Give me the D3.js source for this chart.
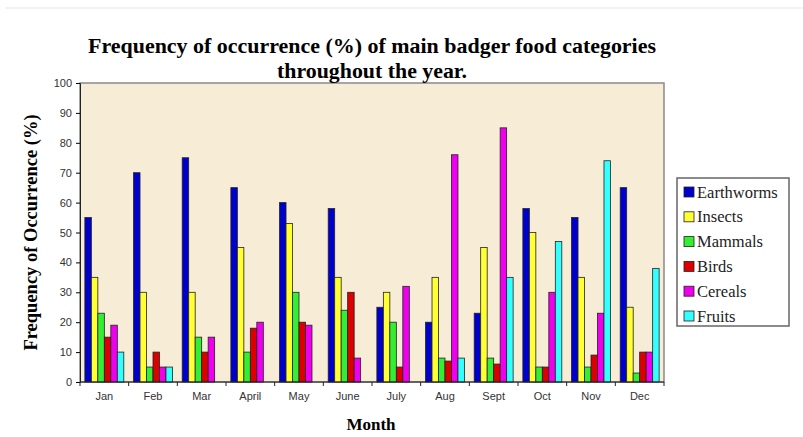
<!DOCTYPE html>
<html>
<head>
<meta charset="utf-8">
<script src="https://cdnjs.cloudflare.com/ajax/libs/d3/7.8.5/d3.min.js"></script>
<style>
  body { margin: 0; background: #fff; }
  svg { display: block; }
</style>
</head>
<body>
<div id="chart"></div>
<script>
var months = ["Jan", "Feb", "Mar", "April", "May", "June", "July", "Aug", "Sept", "Oct", "Nov", "Dec"];
var seriesNames = ["Earthworms", "Insects", "Mammals", "Birds", "Cereals", "Fruits"];
var seriesColors = ["#0000cc", "#ffff33", "#33ee33", "#dd0000", "#ee00ee", "#33ffff"];

var earthworms = [55, 70, 75, 65, 60, 58, 25, 20, 23, 58, 55, 65];
var insects    = [35, 30, 30, 45, 53, 35, 30, 35, 45, 50, 35, 25];
var mammals    = [23, 5, 15, 10, 30, 24, 20, 8, 8, 5, 5, 3];
var birds      = [15, 10, 10, 18, 20, 30, 5, 7, 6, 5, 9, 10];
var cereals    = [19, 5, 15, 20, 19, 8, 32, 76, 85, 30, 23, 10];
var fruits     = [10, 5, 0, 0, 0, 0, 0, 8, 35, 47, 74, 38];

var yTicks = [0, 10, 20, 30, 40, 50, 60, 70, 80, 90, 100];

var allSeries = [earthworms, insects, mammals, birds, cereals, fruits];

var width = 803, height = 437;
var margin = { left: 80, right: 139, top: 83, bottom: 55 };
var serif = "Liberation Serif, Times New Roman, serif";
var sans = "Liberation Sans, Arial, sans-serif";

var svg = d3.select("#chart").append("svg")
    .attr("width", width)
    .attr("height", height);

// faint line at top
svg.append("line")
    .attr("x1", 5).attr("x2", width).attr("y1", 8).attr("y2", 8)
    .attr("stroke", "#eeeeea").attr("stroke-width", 1.5);

var x0 = d3.scaleBand().domain(months)
    .range([margin.left, width - margin.right])
    .paddingInner(0.2).paddingOuter(0.1);
var x1 = d3.scaleBand().domain(d3.range(seriesNames.length))
    .range([0, x0.bandwidth()]);
var y = d3.scaleLinear().domain([0, 100])
    .range([height - margin.bottom, margin.top]);

// plot background
svg.append("rect")
    .attr("x", margin.left).attr("y", margin.top)
    .attr("width", width - margin.right - margin.left)
    .attr("height", height - margin.bottom - margin.top)
    .attr("fill", "#f7ecd5")
    .attr("stroke", "#8a8a8a").attr("stroke-width", 1.5);

// bars
var groups = svg.selectAll("g.month")
    .data(months)
    .enter().append("g")
    .attr("class", "month")
    .attr("transform", function(d) { return "translate(" + x0(d) + ",0)"; });

groups.selectAll("rect")
    .data(function(d, i) {
        return allSeries.map(function(s, k) { return { k: k, v: s[i] }; });
    })
    .enter().append("rect")
    .filter(function(d) { return d.v > 0; })
    .attr("x", function(d) { return x1(d.k); })
    .attr("width", x1.bandwidth())
    .attr("y", function(d) { return y(d.v); })
    .attr("height", function(d) { return y(0) - y(d.v); })
    .attr("fill", function(d) { return seriesColors[d.k]; })
    .attr("stroke", "#222")
    .attr("stroke-width", 0.8);

// y axis
var yAxis = d3.axisLeft(y).tickValues(yTicks).tickSize(4).tickPadding(4);
var yg = svg.append("g")
    .attr("transform", "translate(" + margin.left + ",0)")
    .call(yAxis);
yg.select(".domain").attr("stroke", "#222");
yg.selectAll("text").attr("font-family", sans)
    .attr("font-size", 11).attr("fill", "#333");

// x axis
var xTickPos = d3.scaleLinear().domain([0, 12]).range([margin.left, width - margin.right]);
var xg = svg.append("g").attr("transform", "translate(0," + y(0) + ")");
xg.append("line")
    .attr("x1", margin.left).attr("x2", width - margin.right)
    .attr("stroke", "#222");
xg.selectAll("line.tick")
    .data(d3.range(13))
    .enter().append("line")
    .attr("class", "tick")
    .attr("x1", function(d) { return xTickPos(d); })
    .attr("x2", function(d) { return xTickPos(d); })
    .attr("y1", 0).attr("y2", 4)
    .attr("stroke", "#222");
xg.selectAll("text")
    .data(months)
    .enter().append("text")
    .attr("x", function(d) { return x0(d) + x0.bandwidth() / 2; })
    .attr("y", 18)
    .attr("text-anchor", "middle")
    .attr("font-family", sans)
    .attr("font-size", 11)
    .attr("fill", "#333")
    .text(function(d) { return d; });

// title
var title = svg.append("text")
    .attr("text-anchor", "middle")
    .attr("font-family", serif)
    .attr("font-weight", "bold")
    .attr("font-size", 21);
title.append("tspan").attr("x", 372).attr("y", 53)
    .attr("textLength", 568).attr("lengthAdjust", "spacingAndGlyphs")
    .text("Frequency of occurrence (%) of main badger food categories");
title.append("tspan").attr("x", 372).attr("y", 78)
    .attr("textLength", 190).attr("lengthAdjust", "spacingAndGlyphs")
    .text("throughout the year.");

// axis titles
svg.append("text")
    .attr("x", 371).attr("y", 430)
    .attr("text-anchor", "middle")
    .attr("font-family", serif)
    .attr("font-weight", "bold")
    .attr("font-size", 17)
    .text("Month");

svg.append("text")
    .attr("transform", "translate(37," + ((margin.top + y(0)) / 2) + ") rotate(-90)")
    .attr("text-anchor", "middle")
    .attr("font-family", serif)
    .attr("font-weight", "bold")
    .attr("font-size", 18.5)
    .text("Frequency of Occurrence (%)");

// legend
var legend = svg.append("g").attr("transform", "translate(677,178)");
legend.append("rect")
    .attr("width", 112).attr("height", 148)
    .attr("fill", "#fff")
    .attr("stroke", "#666").attr("stroke-width", 1.5);

var items = legend.selectAll("g.item")
    .data(seriesNames)
    .enter().append("g")
    .attr("class", "item")
    .attr("transform", function(d, i) { return "translate(7," + (14 + i * 24.8) + ")"; });
items.append("rect")
    .attr("x", 0).attr("y", -5)
    .attr("width", 10).attr("height", 10)
    .attr("fill", function(d, i) { return seriesColors[i]; })
    .attr("stroke", "#222").attr("stroke-width", 0.8);
items.append("text")
    .attr("x", 13).attr("y", 5.5)
    .attr("font-family", serif)
    .attr("font-size", 16.5)
    .attr("fill", "#222")
    .text(function(d) { return d; });
</script>
</body>
</html>
